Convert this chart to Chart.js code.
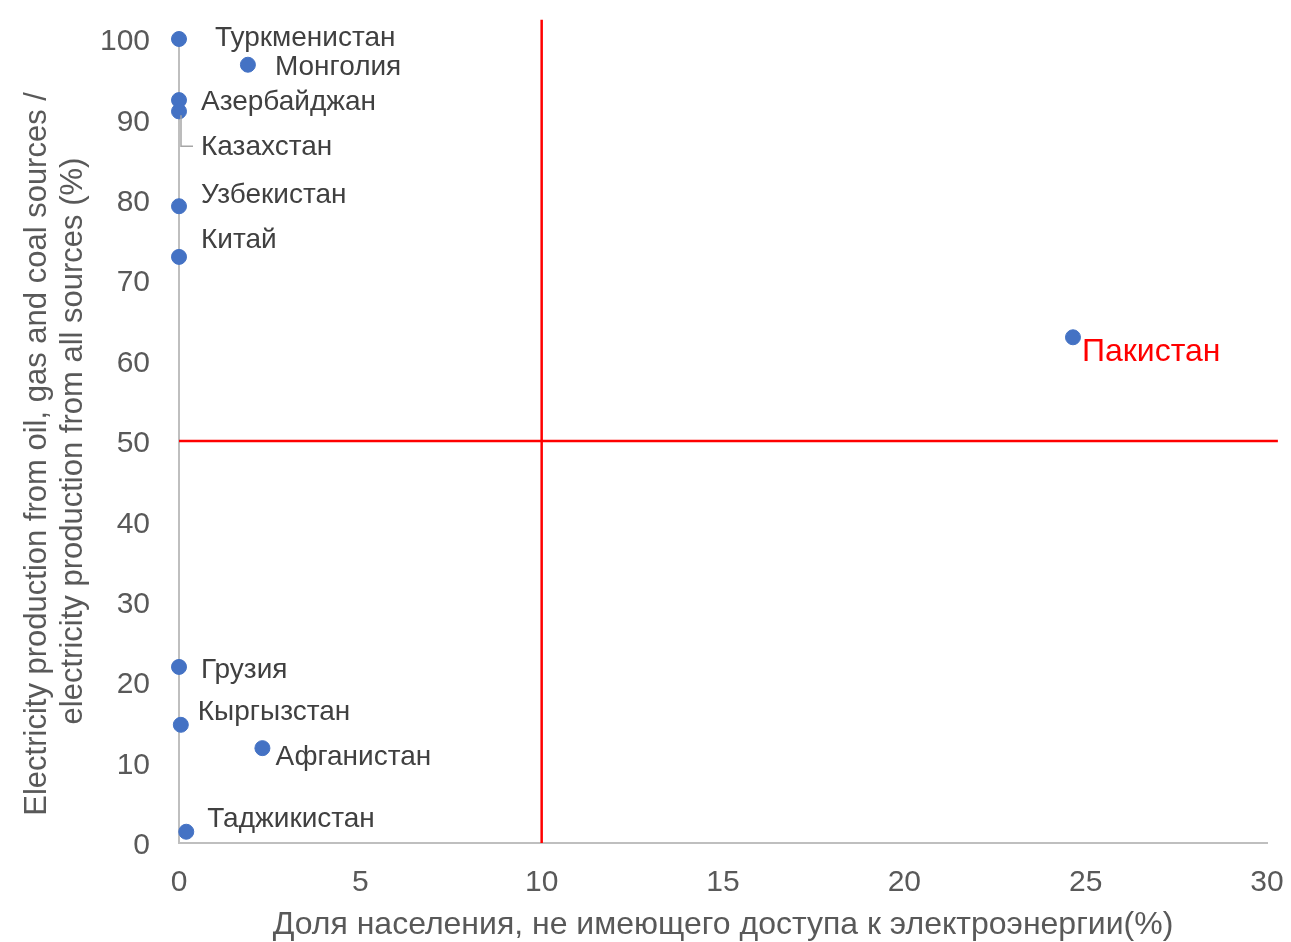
<!DOCTYPE html>
<html>
<head>
<meta charset="utf-8">
<script src="https://cdn.jsdelivr.net/npm/chart.js@4.4.1/dist/chart.umd.min.js"></script>
<style>
  html, body { margin: 0; padding: 0; background: #fff; }
  #wrap { width: 1291px; height: 942px; }
</style>
</head>
<body>
<div id="wrap"><canvas id="grafico"></canvas></div>
<script>
// DATA
const countries = ['Туркменистан', 'Монголия', 'Азербайджан', 'Казахстан', 'Узбекистан', 'Китай',
    'Пакистан', 'Грузия', 'Кыргызстан', 'Афганистан', 'Таджикистан'];
const noAccess = [0, 1.9, 0, 0, 0, 0, 24.65, 0, 0.05, 2.3, 0.2];
const fossilShare = [100, 96.8, 92.4, 91.0, 79.2, 72.9, 62.9, 21.9, 14.7, 11.8, 1.4];
const xTicks = [0, 5, 10, 15, 20, 25, 30];
const yTicks = [0, 10, 20, 30, 40, 50, 60, 70, 80, 90, 100];
const thresholdX = 10;
const thresholdY = 50;
const vLineTop = 102.4;
const hLineEnd = 30.3;

//LABEL PLACEMENT (px offsets from each point)
const labelOffsets = [
    [36, -1], [27, 3], [22, 2], [22, 36], [22, -11], [22, -17],
    [9, 15], [22, 3], [17, -13], [13, 9], [21, -12]
];
const highlight = 'Пакистан';
const FONT = '"Liberation Sans", Arial, sans-serif';

const points = countries.map((c, i) => ({ x: noAccess[i], y: fossilShare[i] }));

const labelPlugin = {
    id: 'pointLabels',
    afterDatasetsDraw(chart) {
        const ctx = chart.ctx;
        const meta = chart.getDatasetMeta(0);
        ctx.save();
        ctx.textBaseline = 'middle';
        ctx.textAlign = 'left';
        meta.data.forEach((el, i) => {
            const name = countries[i];
            const [dx, dy] = labelOffsets[i];
            if (name === 'Казахстан') {
                ctx.strokeStyle = '#A6A6A6';
                ctx.lineWidth = 1.5;
                ctx.beginPath();
                ctx.moveTo(el.x + 2, el.y + 4);
                ctx.lineTo(el.x + 2, el.y + dy - 1);
                ctx.lineTo(el.x + dx - 8, el.y + dy - 1);
                ctx.stroke();
            }
            if (name === highlight) {
                ctx.fillStyle = '#FF0000';
                ctx.font = '32px ' + FONT;
            } else {
                ctx.fillStyle = '#404040';
                ctx.font = '28px ' + FONT;
            }
            ctx.fillText(name, el.x + dx, el.y + dy);
        });
        ctx.restore();
    }
};

const graphic = document.getElementById('grafico');

const chart = new Chart(graphic, {
    type: 'scatter',
    data: {
        datasets: [{
            label: 'Страны',
            data: points,
            backgroundColor: '#4472C4',
            borderColor: '#4472C4',
            pointRadius: 7.5,
            pointHoverRadius: 7.5,
            clip: false,
            order: 0
        }, {
            label: 'v',
            data: [{ x: thresholdX, y: 0 }, { x: thresholdX, y: vLineTop }],
            showLine: true,
            borderColor: '#FF0000',
            borderWidth: 2.5,
            pointRadius: 0,
            clip: false,
            order: 1
        }, {
            label: 'h',
            data: [{ x: 0, y: thresholdY }, { x: hLineEnd, y: thresholdY }],
            showLine: true,
            borderColor: '#FF0000',
            borderWidth: 2.5,
            pointRadius: 0,
            clip: false,
            order: 1
        }]
    },
    options: {
        responsive: true,
        maintainAspectRatio: false,
        animation: false,
        layout: { padding: { top: 39, right: 24, left: 0, bottom: 0 } },
        plugins: {
            legend: { display: false },
            tooltip: { enabled: false }
        },
        scales: {
            x: {
                type: 'linear',
                min: 0,
                max: 30,
                afterBuildTicks: s => { s.ticks = xTicks.map(v => ({ value: v })); },
                afterFit: s => { s.height = 99; s.paddingLeft = 0; s.paddingRight = 0; },
                grid: { display: false, drawTicks: false },
                border: { display: true, color: '#BFBFBF', width: 2 },
                ticks: {
                    color: '#595959',
                    padding: 22,
                    font: { family: FONT, size: 30 }
                },
                title: {
                    display: true,
                    text: 'Доля населения, не имеющего доступа к электроэнергии(%)',
                    color: '#595959',
                    padding: { top: 0, bottom: 0 },
                    font: { family: FONT, size: 32, lineHeight: '34px' }
                }
            },
            y: {
                type: 'linear',
                min: 0,
                max: 100,
                afterBuildTicks: s => { s.ticks = yTicks.map(v => ({ value: v })); },
                afterFit: s => { s.width = 179; s.paddingTop = 0; s.paddingBottom = 0; },
                grid: { display: false, drawTicks: false },
                border: { display: true, color: '#BFBFBF', width: 2 },
                ticks: {
                    color: '#595959',
                    padding: 29,
                    labelOffset: 3,
                    font: { family: FONT, size: 30 }
                },
                title: {
                    display: true,
                    text: ['Electricity production from oil, gas and coal sources /   ',
                        'electricity production from all sources (%)'],
                    color: '#595959',
                    padding: { top: 19, bottom: 0 },
                    font: { family: FONT, size: 31, lineHeight: '36px' }
                }
            }
        }
    },
    plugins: [labelPlugin]
});
</script>
</body>
</html>
